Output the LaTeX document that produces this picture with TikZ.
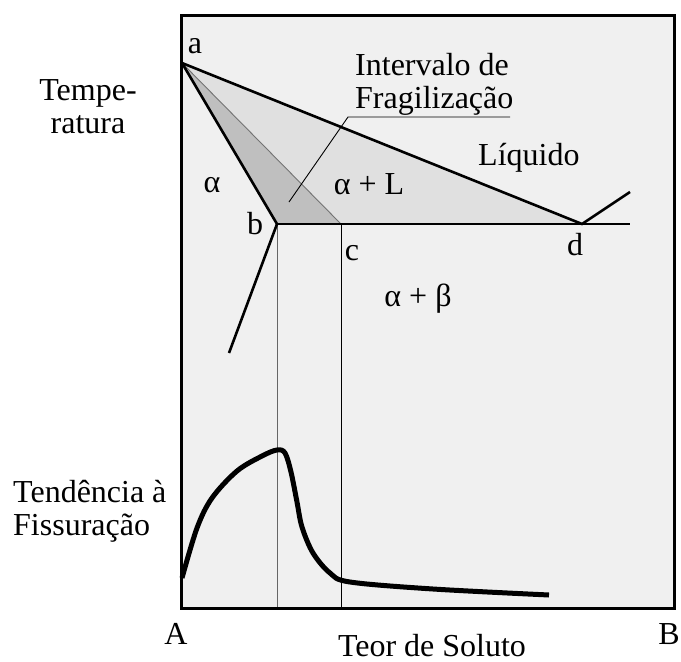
\documentclass[tikz,border=0pt]{standalone}
\usepackage{fontspec}
\setmainfont{Liberation Serif}
\usepackage{xcolor}
\usetikzlibrary{positioning, arrows.meta}

\begin{document}
\begin{tikzpicture}[x=1pt, y=-1pt, every node/.style={font=\fontsize{32}{32.5}\selectfont, inner sep=0pt, anchor=base},
    frame/.style={line width=3pt}, phase/.style={line width=2.6pt}, guide/.style={line width=0.9pt},
    crack/.style={line width=5pt, line join=round}]
    \useasboundingbox (0,0) rectangle (681,662);

    \coordinate (tl) at (181,15);
    \coordinate (br) at (674,608);
    \coordinate (a)  at (182,63);
    \coordinate (b)  at (277,224);
    \coordinate (c)  at (341,224);
    \coordinate (d)  at (582,224);
    \coordinate (eR) at (630,224);
    \coordinate (dR) at (630,192);
    \coordinate (bL) at (229,353);
    \coordinate (bB) at (277,608);
    \coordinate (cB) at (341,608);
    \coordinate (k1) at (289,202);
    \coordinate (k2) at (348,117);
    \coordinate (k3) at (510,117);

    \fill[black!6] (tl) rectangle (br);
    \fill[black!12] (a) -- (c) -- (d) -- cycle;
    \fill[black!25] (a) -- (b) -- (c) -- cycle;

    \draw[guide, black!55] (a) -- (c);
    \draw[guide, black!60] (b) -- (bB);
    \draw[guide] (c) -- (cB);
    \draw[guide] (k1) -- (k2) -- (k3);

    \draw[phase] (a) -- (d) -- (dR);
    \draw[phase] (a) -- (b) -- (bL);
    \draw[phase] (b) -- (eR);

    \draw[crack] plot[smooth, tension=0.55] coordinates {(182,578) (197,528) (212,498) (237,471) (262,456) (277,450)
        (285,453) (291,472) (297,502) (302,527) (313,553) (330,573) (350,582) (433,589) (549,595)};

    \draw[frame] (tl) rectangle (br);

    \node (la)    at (195,53)  {a};
    \node (lb)    at (255,234) {b};
    \node (lc)    at (352,260) {c};
    \node (ld)    at (575,255) {d};
    \node (alpha) at (212,192) {α};
    \node (aL)    at (369,194) {α + L};
    \node (ab)    at (418,306) {α + β};
    \node[anchor=base west] (liq) at (478,165) {Líquido};
    \node[anchor=base west, align=left] (intv) at (355,108) {Intervalo de\\Fragilização};
    \node[align=center] (temp) at (88,133) {Tempe-\\ratura};
    \node[align=left, anchor=base west] (tend) at (13,535) {Tendência à\\Fissuração};
    \node (lA)    at (176,644) {A};
    \node[anchor=base east] (lB) at (680,644) {B};
    \node (teor)  at (432,656) {Teor de Soluto};
\end{tikzpicture}
\end{document}
